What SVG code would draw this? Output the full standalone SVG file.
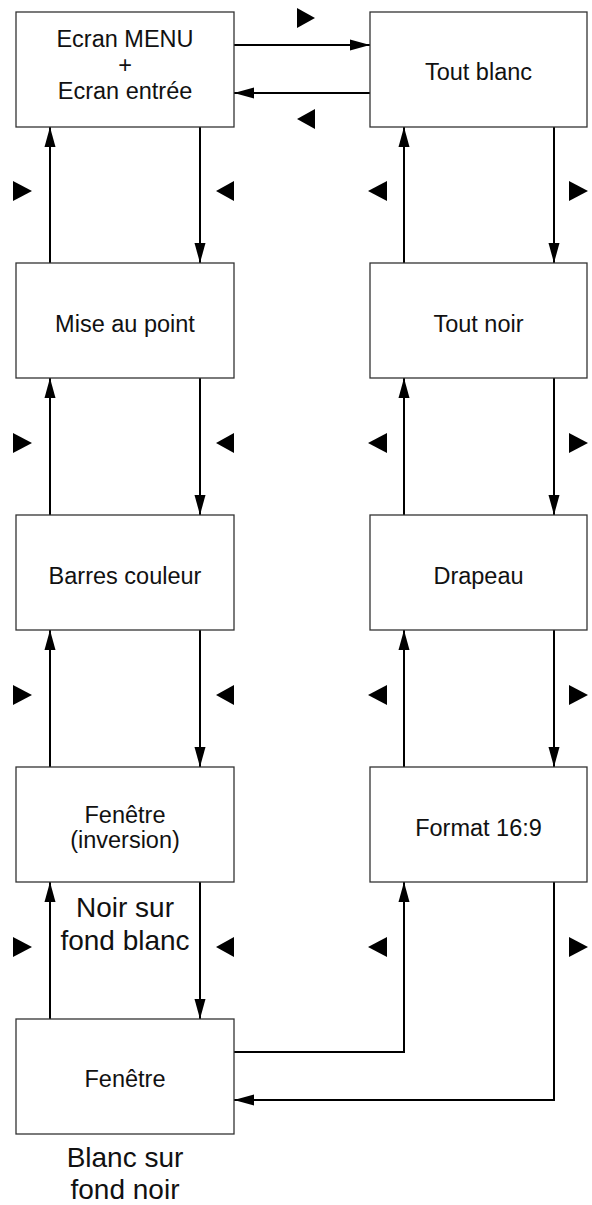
<svg xmlns="http://www.w3.org/2000/svg" width="592" height="1205" viewBox="0 0 592 1205">
<style>
.box{fill:#fff;stroke:#333;stroke-width:1.3}
.t{font-family:"Liberation Sans",Arial,sans-serif;font-size:23.5px;fill:#111;text-anchor:middle}
.lbl{font-family:"Liberation Sans",Arial,sans-serif;font-size:28px;fill:#111;text-anchor:middle}
.c{fill:none;stroke:#000;stroke-width:2;marker-end:url(#ah)}
.tri{fill:#000}
</style>
<defs>
<marker id="ah" markerUnits="userSpaceOnUse" markerWidth="20" markerHeight="12" refX="20" refY="6" orient="auto" viewBox="0 0 20 12">
<path d="M0,0.5 L20,6 L0,11.5 Z" fill="#000"/>
</marker>
</defs>
<rect width="592" height="1205" fill="#fff"/>
<g id="connectors">
<path class="c" d="M234,45 H370"/>
<path class="c" d="M370,93 H234"/>
<path class="c" d="M200,127 V263"/>
<path class="c" d="M50,263 V127"/>
<path class="c" d="M200,378 V515"/>
<path class="c" d="M50,515 V378"/>
<path class="c" d="M200,630 V767"/>
<path class="c" d="M50,767 V630"/>
<path class="c" d="M200,882 V1019"/>
<path class="c" d="M50,1019 V882"/>
<path class="c" d="M554,127 V263"/>
<path class="c" d="M404,263 V127"/>
<path class="c" d="M554,378 V515"/>
<path class="c" d="M404,515 V378"/>
<path class="c" d="M554,630 V767"/>
<path class="c" d="M404,767 V630"/>
<path class="c" d="M234,1052 H404 V882"/>
<path class="c" d="M554,882 V1100 H234"/>
</g>
<g id="indicators">
<polygon class="tri" points="297,8 315,18 297,28"/>
<polygon class="tri" points="315,109 297,119 315,129"/>
<polygon class="tri" points="13,181 32,191 13,201"/>
<polygon class="tri" points="234,181 216,191 234,201"/>
<polygon class="tri" points="387,181 368,191 387,201"/>
<polygon class="tri" points="569,181 588,191 569,201"/>
<polygon class="tri" points="13,433 32,443 13,453"/>
<polygon class="tri" points="234,433 216,443 234,453"/>
<polygon class="tri" points="387,433 368,443 387,453"/>
<polygon class="tri" points="569,433 588,443 569,453"/>
<polygon class="tri" points="13,685 32,695 13,705"/>
<polygon class="tri" points="234,685 216,695 234,705"/>
<polygon class="tri" points="387,685 368,695 387,705"/>
<polygon class="tri" points="569,685 588,695 569,705"/>
<polygon class="tri" points="13,937 32,947 13,957"/>
<polygon class="tri" points="234,937 216,947 234,957"/>
<polygon class="tri" points="387,937 368,947 387,957"/>
<polygon class="tri" points="569,937 588,947 569,957"/>
</g>
<g id="n-menu"><rect class="box" x="16" y="12" width="218" height="115"/>
<text class="t" x="125" y="47">Ecran MENU</text><text class="t" x="125" y="73">+</text><text class="t" x="125" y="99">Ecran entrée</text></g>
<g id="n-toutblanc"><rect class="box" x="370" y="12" width="217" height="115"/>
<text class="t" x="478.5" y="80">Tout blanc</text></g>
<g id="n-miseaupoint"><rect class="box" x="16" y="263" width="218" height="115"/>
<text class="t" x="125" y="332">Mise au point</text></g>
<g id="n-toutnoir"><rect class="box" x="370" y="263" width="217" height="115"/>
<text class="t" x="478.5" y="332">Tout noir</text></g>
<g id="n-barres"><rect class="box" x="16" y="515" width="218" height="115"/>
<text class="t" x="125" y="584">Barres couleur</text></g>
<g id="n-drapeau"><rect class="box" x="370" y="515" width="217" height="115"/>
<text class="t" x="478.5" y="584">Drapeau</text></g>
<g id="n-fenetre-inv"><rect class="box" x="16" y="767" width="218" height="115"/>
<text class="t" x="125" y="822.5">Fenêtre</text><text class="t" x="125" y="848">(inversion)</text></g>
<g id="n-format"><rect class="box" x="370" y="767" width="217" height="115"/>
<text class="t" x="478.5" y="836">Format 16:9</text></g>
<g id="n-fenetre"><rect class="box" x="16" y="1019" width="218" height="115"/>
<text class="t" x="125" y="1087">Fenêtre</text></g>
<g id="labels">
<text class="lbl" x="125" y="916.5">Noir sur</text>
<text class="lbl" x="125" y="950">fond blanc</text>
<text class="lbl" x="125" y="1166.5">Blanc sur</text>
<text class="lbl" x="125" y="1199">fond noir</text>
</g>
</svg>
